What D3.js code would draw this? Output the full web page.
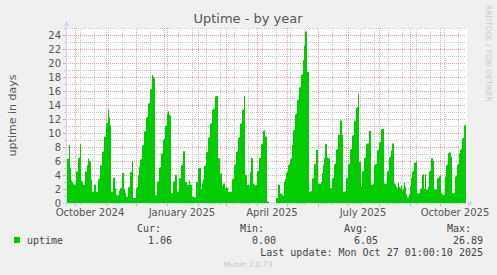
<!DOCTYPE html>
<html>
<head>
<meta charset="utf-8">
<script src="https://cdn.jsdelivr.net/npm/d3@7"></script>
<style>
	html, body { margin: 0; padding: 0; background: #f0f0f0; }
	svg { display: block; font-family: "DejaVu Sans", sans-serif; }
	.mono { font-family: "DejaVu Sans Mono", monospace; }
</style>
</head>
<body>
<div id="chart"></div>
<script>
// ----------------------------------
// DATA
// ----------------------------------

const lastUpdate = new Date(Date.UTC(2025, 9, 27, 1, 0, 10));

// one value per day (uptime in days), oldest first, last one is the day before lastUpdate
const uptimeDays = [
	6.3,6.3,8.3,5.0,3.2,3.0,2.7,2.6,2.6,4.5,4.5,6.4,6.5,8.4,3.2,3.0,2.6,2.6,4.5,4.5,
	5.4,6.4,6.0,5.9,3.3,1.6,1.6,2.6,2.6,1.6,1.6,3.4,3.5,5.4,5.4,7.3,7.4,9.5,9.5,11.4,
	11.4,13.4,12.2,11.1,1.6,1.6,3.6,3.6,2.1,1.2,1.1,1.1,1.8,2.1,2.2,4.3,4.3,2.0,1.5,0.9,
	0.9,2.2,2.3,4.4,4.5,6.0,0.7,0.7,0.7,2.1,2.3,4.0,5.2,6.2,6.3,8.2,8.3,10.2,10.3,12.2,
	12.3,14.2,14.3,16.2,16.3,18.3,18.0,17.8,1.1,1.1,3.0,3.1,5.0,5.1,7.0,7.1,9.0,9.2,11.0,11.1,
	12.8,13.1,12.6,12.5,1.4,1.4,3.0,3.1,4.0,4.0,1.6,1.6,3.5,3.6,5.4,5.5,7.4,7.4,3.0,3.0,
	2.6,2.6,3.2,2.6,2.6,0.9,0.9,0.8,0.8,3.0,3.0,4.9,5.0,5.0,2.0,2.8,3.4,5.3,5.4,7.2,
	7.3,9.3,9.4,11.3,11.4,13.3,13.4,13.5,15.2,15.3,15.3,6.4,6.4,4.2,4.2,2.5,2.8,2.8,2.1,2.3,
	2.1,1.6,1.6,1.6,1.6,3.4,3.5,5.4,5.5,7.3,7.4,9.3,9.4,11.3,11.4,13.3,13.4,15.3,4.0,4.0,
	2.6,2.6,2.5,4.4,6.4,6.4,2.8,2.6,2.5,2.6,4.5,4.6,6.4,6.5,8.4,8.5,10.3,10.4,9.5,9.5,
	0.2,0.2,null,null,null,null,null,null,null,0.7,0.7,2.6,2.6,1.4,1.3,1.2,1.0,3.0,3.4,4.3,
	4.5,5.4,5.6,6.2,6.4,8.3,10.4,10.5,12.6,12.8,14.7,14.8,16.5,16.6,18.3,18.4,20.4,22.5,24.5,24.5,
	18.7,18.7,1.6,1.6,1.7,3.5,3.6,5.5,5.6,7.6,7.6,2.8,2.8,2.7,3.0,4.3,5.4,6.4,8.4,8.4,
	6.5,6.4,6.4,2.1,2.1,3.5,3.6,5.5,5.6,7.6,7.7,9.7,9.8,11.8,11.8,9.7,1.6,1.6,1.7,3.5,
	3.6,5.5,5.6,7.6,7.7,9.6,9.7,11.7,11.8,13.6,13.7,15.6,5.9,5.9,2.4,4.5,4.6,6.4,6.5,8.4,
	8.5,8.5,10.3,10.3,2.6,2.6,2.7,5.4,5.5,5.6,7.5,7.6,8.6,8.7,10.5,10.6,10.6,2.8,2.7,2.7,
	4.5,4.6,6.5,6.6,7.5,8.5,8.5,2.8,2.6,2.3,2.1,2.9,2.3,2.1,2.5,1.8,2.0,2.9,2.3,1.2,
	0.8,0.8,1.2,2.4,3.6,4.5,4.6,5.7,5.8,5.9,1.4,1.4,1.4,2.0,2.1,4.0,4.1,2.0,4.1,1.9,
	1.9,2.3,4.5,4.6,6.4,6.4,6.0,2.0,1.9,1.9,3.5,3.6,3.8,3.9,1.4,1.2,1.1,1.2,3.8,5.4,
	5.5,7.1,7.2,7.2,6.6,1.4,1.4,1.4,3.8,3.9,5.4,5.6,7.1,7.6,7.7,9.2,9.3,11.1,11.1
];

const monthLabelDates = [
	new Date(Date.UTC(2024, 9, 16)),
	new Date(Date.UTC(2025, 0, 16)),
	new Date(Date.UTC(2025, 3, 16)),
	new Date(Date.UTC(2025, 6, 16)),
	new Date(Date.UTC(2025, 9, 16))
];
const monthLabelText = ["October 2024", "January 2025", "April 2025", "July 2025", "October 2025"];

const legendHeaders = ["Cur:", "Min:", "Avg:", "Max:"];
const legendValues = ["1.06", "0.00", "6.05", "26.89"];

// ----------------------------------
// SETUP
// ----------------------------------

const width = 497, height = 275;
const plot = {left: 66, right: 466, top: 28, bottom: 203};

const colors = {
	back: '#f0f0f0',
	canvas: '#ffffff',
	area: '#00cc00',
	grid: '#c8c8c8',
	mgrid: '#eea0a0',
	axis: '#cfd6f8',
	font: '#555555'
};

const svg = d3.select('#chart')
	.append('svg')
	.attr('width', width)
	.attr('height', height);

svg.append('rect')
	.attr('width', width)
	.attr('height', height)
	.attr('fill', colors.back);

svg.append('rect')
	.attr('x', plot.left)
	.attr('y', plot.top)
	.attr('width', plot.right - plot.left + 1)
	.attr('height', plot.bottom - plot.top)
	.attr('fill', colors.canvas);

// ----------------------------------
// SCALES
// ----------------------------------

const xScale = d3.scaleUtc()
	.domain([d3.utcDay.offset(lastUpdate, -400), lastUpdate])
	.range([plot.left, plot.right]);

const yScale = d3.scaleLinear()
	.domain([0, 25])
	.range([plot.bottom, plot.top]);

const crisp = v => Math.round(v) + 0.5;

// ----------------------------------
// GRID
// ----------------------------------

const grid = svg.append('g').attr('shape-rendering', 'crispEdges');

// minor horizontal, every day of uptime
d3.range(1, 26).filter(v => v % 2 !== 0).forEach(v => {
	grid.append('line')
		.attr('x1', plot.left).attr('x2', plot.right)
		.attr('y1', crisp(yScale(v))).attr('y2', crisp(yScale(v)))
		.attr('stroke', colors.grid)
		.attr('stroke-dasharray', '1,1');
	grid.append('line')
		.attr('x1', plot.left - 2).attr('x2', plot.left)
		.attr('y1', crisp(yScale(v))).attr('y2', crisp(yScale(v)))
		.attr('stroke', colors.grid);
});

// minor vertical, every two weeks
const minorAnchor = new Date(Date.UTC(2025, 6, 13));
const minorDates = d3.range(-30, 10)
	.map(k => d3.utcDay.offset(minorAnchor, 14 * k))
	.filter(d => d > xScale.domain()[0] && d < xScale.domain()[1]);

minorDates.forEach(d => {
	const xp = crisp(xScale(d));
	grid.append('line')
		.attr('x1', xp).attr('x2', xp)
		.attr('y1', plot.top).attr('y2', plot.bottom)
		.attr('stroke', colors.grid)
		.attr('stroke-dasharray', '1,1');
	grid.append('line')
		.attr('x1', xp).attr('x2', xp)
		.attr('y1', plot.bottom).attr('y2', plot.bottom + 2)
		.attr('stroke', colors.grid);
});

// major horizontal
const yTicks = d3.range(2, 25, 2);
yTicks.forEach(v => {
	grid.append('line')
		.attr('x1', plot.left).attr('x2', plot.right)
		.attr('y1', crisp(yScale(v))).attr('y2', crisp(yScale(v)))
		.attr('stroke', colors.mgrid)
		.attr('stroke-dasharray', '1,1');
	grid.append('line')
		.attr('x1', plot.left - 3).attr('x2', plot.left)
		.attr('y1', crisp(yScale(v))).attr('y2', crisp(yScale(v)))
		.attr('stroke', colors.mgrid);
});

// major vertical, month starts
const monthDates = d3.utcMonth.range(xScale.domain()[0], xScale.domain()[1]);
monthDates.forEach(d => {
	const xp = crisp(xScale(d));
	grid.append('line')
		.attr('x1', xp).attr('x2', xp)
		.attr('y1', plot.top).attr('y2', plot.bottom)
		.attr('stroke', colors.mgrid)
		.attr('stroke-dasharray', '1,1');
	grid.append('line')
		.attr('x1', xp).attr('x2', xp)
		.attr('y1', plot.bottom).attr('y2', plot.bottom + 3)
		.attr('stroke', colors.mgrid);
});

// ----------------------------------
// AREA
// ----------------------------------

// every daily value is held flat for its whole day (rrdtool style steps)
const stepPoints = [];
uptimeDays.forEach((v, i) => {
	const start = d3.utcDay.offset(lastUpdate, -(uptimeDays.length - i));
	const end = d3.utcDay.offset(start, 1);
	stepPoints.push({date: start, value: v});
	stepPoints.push({date: end, value: v});
});

const area = d3.area()
	.defined(d => d.value !== null)
	.x(d => xScale(d.date))
	.y0(yScale(0))
	.y1(d => yScale(d.value));

svg.append('path')
	.datum(stepPoints)
	.attr('d', area)
	.attr('fill', colors.area);

// ----------------------------------
// AXES
// ----------------------------------

const axes = svg.append('g').attr('shape-rendering', 'crispEdges');

axes.append('line')
	.attr('x1', plot.left - 3).attr('x2', plot.right + 3)
	.attr('y1', crisp(yScale(0))).attr('y2', crisp(yScale(0)))
	.attr('stroke', colors.axis);

axes.append('line')
	.attr('x1', crisp(plot.left)).attr('x2', crisp(plot.left))
	.attr('y1', plot.bottom + 3).attr('y2', plot.top - 4)
	.attr('stroke', colors.axis);

svg.append('path')
	.attr('d', `M${plot.right + 2},${crisp(plot.bottom) - 3} L${plot.right + 7},${crisp(plot.bottom)} L${plot.right + 2},${crisp(plot.bottom) + 3} Z`)
	.attr('fill', colors.axis);

svg.append('path')
	.attr('d', `M${crisp(plot.left) - 3},${plot.top - 2} L${crisp(plot.left)},${plot.top - 7} L${crisp(plot.left) + 3},${plot.top - 2} Z`)
	.attr('fill', colors.axis);

// y tick labels
svg.append('g')
	.selectAll('text')
	.data([0].concat(yTicks))
	.join('text')
	.attr('x', plot.left - 5)
	.attr('y', d => yScale(d))
	.attr('dy', '0.35em')
	.attr('text-anchor', 'end')
	.attr('font-size', 10)
	.attr('fill', colors.font)
	.text(d => d);

// x labels
svg.append('g')
	.selectAll('text')
	.data(monthLabelDates)
	.join('text')
	.attr('x', d => xScale(d))
	.attr('y', 216)
	.attr('text-anchor', 'middle')
	.attr('font-size', 10)
	.attr('fill', colors.font)
	.text((d, i) => monthLabelText[i]);

// ----------------------------------
// TITLES
// ----------------------------------

svg.append('text')
	.attr('x', 248)
	.attr('y', 23)
	.attr('text-anchor', 'middle')
	.attr('font-size', 13)
	.attr('fill', colors.font)
	.text('Uptime - by year');

svg.append('text')
	.attr('transform', `translate(12, ${(plot.top + plot.bottom) / 2}) rotate(-90)`)
	.attr('text-anchor', 'middle')
	.attr('dy', '0.35em')
	.attr('font-size', 11)
	.attr('fill', colors.font)
	.text('uptime in days');

svg.append('text')
	.attr('transform', 'translate(486, 5) rotate(90)')
	.attr('font-size', 7.5)
	.attr('fill', '#cccccc')
	.text('RRDTOOL / TOBI OETIKER');

// ----------------------------------
// LEGEND
// ----------------------------------

const legend = svg.append('g').attr('class', 'mono').attr('font-size', 10).attr('fill', '#444');

const headerX = [137, 240, 344, 447];
const valueX = [172, 276, 378, 483];

legend.selectAll('text.head')
	.data(legendHeaders)
	.join('text')
	.attr('class', 'head mono')
	.attr('x', (d, i) => headerX[i])
	.attr('y', 232)
	.text(d => d);

legend.append('rect')
	.attr('x', 14).attr('y', 237)
	.attr('width', 6).attr('height', 6)
	.attr('fill', colors.area);

legend.append('text')
	.attr('class', 'mono')
	.attr('x', 27)
	.attr('y', 244)
	.text('uptime');

legend.selectAll('text.val')
	.data(legendValues)
	.join('text')
	.attr('class', 'val mono')
	.attr('x', (d, i) => valueX[i])
	.attr('y', 244)
	.attr('text-anchor', 'end')
	.text(d => d);

legend.append('text')
	.attr('class', 'mono')
	.attr('x', 483)
	.attr('y', 255.5)
	.attr('text-anchor', 'end')
	.text('Last update: Mon Oct 27 01:00:10 2025');

svg.append('text')
	.attr('x', 248)
	.attr('y', 267)
	.attr('text-anchor', 'middle')
	.attr('font-size', 7.5)
	.attr('fill', '#c8c8c8')
	.text('Munin 2.0.73');
</script>
</body>
</html>
